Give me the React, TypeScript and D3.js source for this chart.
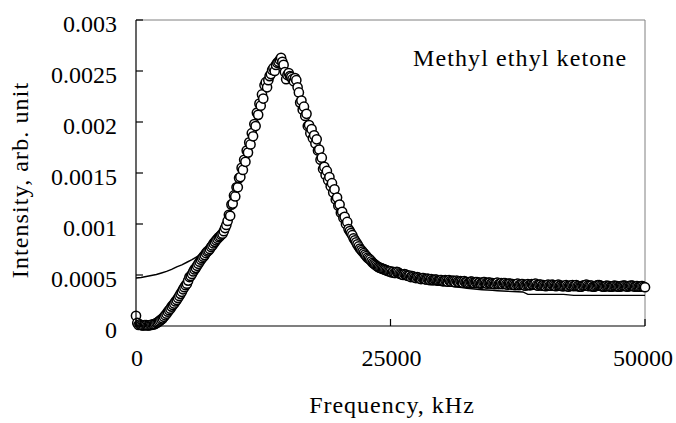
import React from "react";
import * as d3 from "d3";

// Measured spectrum: frequency grid (kHz) and intensity values in units of 1e-4 arb. unit
const frequencies: number[] = d3.range(0, 50001, 125);
const intensityE4: number[] = [
  1.0, 0.3, 0.1, 0.15, 0.1, 0.05, 0.05, 0.1,
  0.1, 0.05, 0.05, 0.1, 0.1, 0.15, 0.15, 0.2,
  0.3, 0.35, 0.45, 0.55, 0.65, 0.75, 0.9, 1.05,
  1.2, 1.4, 1.55, 1.7, 1.9, 2.05, 2.2, 2.4,
  2.55, 2.75, 2.95, 3.15, 3.35, 3.6, 3.8, 4.0,
  4.15, 4.45, 4.8, 4.9, 5.1, 5.35, 5.55, 5.7,
  5.9, 6.1, 6.3, 6.5, 6.65, 6.8, 6.95, 7.15,
  7.3, 7.4, 7.55, 7.75, 7.9, 8.1, 8.25, 8.4,
  8.55, 8.7, 8.8, 8.95, 9.05, 9.3, 9.6, 9.9,
  10.3, 10.9, 10.8, 11.9, 12.0, 12.8, 12.7, 13.6,
  13.6, 14.5, 14.6, 15.5, 15.3, 16.3, 16.1, 17.2,
  17.0, 18.0, 17.8, 18.9, 18.6, 19.8, 19.6, 20.9,
  20.7, 21.8, 21.6, 22.7, 22.3, 23.6, 23.9, 23.4,
  24.1, 24.5, 24.7, 25.1, 25.3, 25.0, 25.6, 25.8,
  25.9, 26.1, 26.3, 25.9, 25.6, 24.9, 24.2, 24.6,
  24.8, 24.5, 24.4, 24.2, 24.0, 24.3, 24.1, 23.4,
  22.9, 21.9, 22.1, 21.2, 21.5, 20.6, 20.8, 19.6,
  19.7, 18.9, 19.3, 18.4, 18.7, 17.9, 18.3, 17.2,
  17.3, 16.3, 16.5, 15.4, 15.6, 14.8, 15.2, 14.3,
  14.6, 13.7, 14.0, 13.1, 13.4, 12.4, 12.6, 11.8,
  11.9, 11.1, 11.2, 10.6, 10.7, 10.0, 10.2, 9.5,
  9.3, 9.1, 8.9, 8.6, 8.4, 8.2, 8.0, 7.8,
  7.6, 7.45, 7.3, 7.15, 7.0, 6.85, 6.7, 6.6,
  6.5, 6.35, 6.2, 6.1, 6.0, 5.9, 5.8, 5.75,
  5.7, 5.65, 5.6, 5.55, 5.5, 5.45, 5.4, 5.35,
  5.35, 5.25, 5.3, 5.2, 5.2, 5.3, 5.25, 5.15,
  5.1, 5.05, 5.0, 5.1, 5.05, 4.95, 4.9, 4.95,
  4.8, 4.9, 4.85, 4.75, 4.7, 4.8, 4.75, 4.65,
  4.6, 4.7, 4.7, 4.6, 4.55, 4.65, 4.6, 4.5,
  4.6, 4.5, 4.5, 4.55, 4.55, 4.45, 4.45, 4.5,
  4.5, 4.4, 4.4, 4.5, 4.45, 4.35, 4.5, 4.4,
  4.35, 4.45, 4.4, 4.3, 4.45, 4.35, 4.3, 4.4,
  4.35, 4.25, 4.4, 4.3, 4.3, 4.2, 4.25, 4.35,
  4.35, 4.25, 4.2, 4.3, 4.3, 4.2, 4.25, 4.15,
  4.2, 4.3, 4.3, 4.2, 4.15, 4.25, 4.25, 4.15,
  4.2, 4.15, 4.1, 4.2, 4.25, 4.1, 4.15, 4.2,
  4.1, 4.2, 4.2, 4.1, 4.05, 4.15, 4.15, 4.05,
  4.1, 4.05, 4.0, 4.1, 4.15, 4.0, 4.05, 4.1,
  4.1, 4.0, 3.95, 4.05, 4.1, 4.0, 4.0, 4.1,
  4.05, 4.1, 4.15, 4.0, 3.95, 4.05, 4.05, 3.95,
  4.0, 3.95, 3.9, 4.0, 4.05, 3.95, 3.95, 4.05,
  4.0, 3.95, 3.9, 4.0, 4.05, 3.95, 3.95, 3.9,
  3.9, 3.95, 4.0, 3.9, 3.85, 3.95, 3.95, 4.0,
  3.9, 3.95, 4.0, 3.9, 3.9, 3.85, 3.85, 3.95,
  3.95, 4.0, 4.05, 3.95, 3.9, 3.95, 3.95, 3.85,
  3.85, 3.9, 3.95, 4.0, 4.0, 3.95, 3.9, 3.85,
  3.85, 3.9, 3.95, 3.9, 3.9, 3.85, 3.85, 3.9,
  3.95, 3.9, 3.9, 3.85, 3.85, 3.9, 3.9, 3.95,
  3.95, 3.9, 3.85, 3.9, 3.9, 3.95, 3.95, 3.9,
  3.85, 3.9, 3.9, 3.85, 3.85, 3.9, 3.9, 3.85,
  3.8,
];

// Fitted curve: frequency grid (kHz) and values in units of 1e-4
const fitFrequencies: number[] = d3.range(0, 50001, 500);
const fitE4: number[] = [
  4.7, 4.75, 4.85, 4.95, 5.05, 5.2, 5.35, 5.55, 5.8, 6.0,
  6.25, 6.5, 6.8, 7.1, 7.45, 7.85, 8.3, 9.0, 10.2, 11.9,
  13.7, 15.5, 17.2, 18.9, 20.8, 22.5, 23.9, 24.9, 25.4, 25.4,
  24.8, 23.8, 22.5, 21.0, 19.4, 18.1, 16.8, 15.2, 14.0, 12.8,
  11.6, 10.4, 9.3, 8.3, 7.5, 6.9, 6.4, 6.0, 5.6, 5.3,
  5.05, 4.85, 4.7, 4.55, 4.45, 4.35, 4.25, 4.18, 4.12, 4.06,
  4.0, 3.95, 3.88, 3.82, 3.76, 3.7, 3.65, 3.6, 3.56, 3.53,
  3.5, 3.46, 3.43, 3.4, 3.38, 3.36, 3.34, 3.1, 3.1, 3.1,
  3.1, 3.1, 3.1, 3.1, 3.1, 3.05, 3.0, 3.0, 3.0, 3.0,
  3.0, 3.0, 3.0, 3.0, 3.0, 3.0, 3.0, 3.0, 3.0, 3.0, 3.0,
];
const UNIT = 1e-4;

const yTicks: number[] = [0, 0.0005, 0.001, 0.0015, 0.002, 0.0025, 0.003];
const yTickLabels: string[] = ["0", "0.0005", "0.001", "0.0015", "0.002", "0.0025", "0.003"];
const xTicks: number[] = [0, 25000, 50000];
const xTickLabels: string[] = ["0", "25000", "50000"];

const title = "Methyl ethyl ketone";
const xTitle = "Frequency, kHz";
const yTitle = "Intensity, arb. unit";

const W = 676;
const H = 423;
const L = 136;
const R = 645;
const T = 20;
const B = 326;
const FONT = "'Liberation Serif', 'Times New Roman', serif";

export default function App() {
  const x = d3.scaleLinear().domain([0, 50000]).range([L, R]);
  const y = d3.scaleLinear().domain([0, 0.003]).range([B, T]);

  const points = frequencies.map((f, i) => ({ f, v: intensityE4[i] * UNIT }));
  const fit = fitFrequencies.map((f, i) => ({ f, v: fitE4[i] * UNIT }));

  const line = d3
    .line<{ f: number; v: number }>()
    .x((d) => x(d.f))
    .y((d) => y(d.v));

  return (
    <svg
      width={W}
      height={H}
      viewBox={`0 0 ${W} ${H}`}
      style={{ position: "absolute", left: 0, top: 0, background: "#fff" }}
      fontFamily={FONT}
    >
      <rect x={0} y={0} width={W} height={H} fill="#fff" />
      {/* plot area border (top/right gray) */}
      <line x1={L} x2={R} y1={T} y2={T} stroke="#808080" strokeWidth={1} />
      <line x1={R} x2={R} y1={T} y2={B} stroke="#808080" strokeWidth={1} />

      {/* fitted line */}
      <path d={line(fit) || ""} fill="none" stroke="#000" strokeWidth={1.4} />

      {/* data markers */}
      {points.map((p, i) => (
        <circle
          key={i}
          cx={x(p.f)}
          cy={y(p.v)}
          r={4.6}
          fill="#fff"
          stroke="#000"
          strokeWidth={1.5}
        />
      ))}

      {/* axes */}
      <line x1={L} x2={L} y1={T} y2={B} stroke="#000" strokeWidth={1.2} />
      <line x1={L} x2={R} y1={B} y2={B} stroke="#000" strokeWidth={1.2} />
      {yTicks.map((t, i) => (
        <g key={"y" + i}>
          <line x1={L} x2={L + 7} y1={y(t)} y2={y(t)} stroke="#000" strokeWidth={1.2} />
          <text x={117} y={y(t) + 12} textAnchor="end" fontSize={24} fill="#000">
            {yTickLabels[i]}
          </text>
        </g>
      ))}
      {xTicks.map((t, i) => (
        <g key={"x" + i}>
          <line x1={x(t)} x2={x(t)} y1={B} y2={B - 7} stroke="#000" strokeWidth={1.2} />
          <text
            x={i === xTicks.length - 1 ? 673 : x(t) + 1}
            y={366}
            textAnchor={i === xTicks.length - 1 ? "end" : "middle"}
            fontSize={24}
            fill="#000"
          >
            {xTickLabels[i]}
          </text>
        </g>
      ))}

      {/* titles */}
      <text x={413} y={66} fontSize={24} letterSpacing={1.1} fill="#000">
        {title}
      </text>
      <text x={392} y={413} textAnchor="middle" fontSize={24} letterSpacing={1} fill="#000">
        {xTitle}
      </text>
      <text
        transform={`translate(28, 180) rotate(-90)`}
        textAnchor="middle"
        fontSize={24}
        letterSpacing={1.1}
        fill="#000"
      >
        {yTitle}
      </text>
    </svg>
  );
}
